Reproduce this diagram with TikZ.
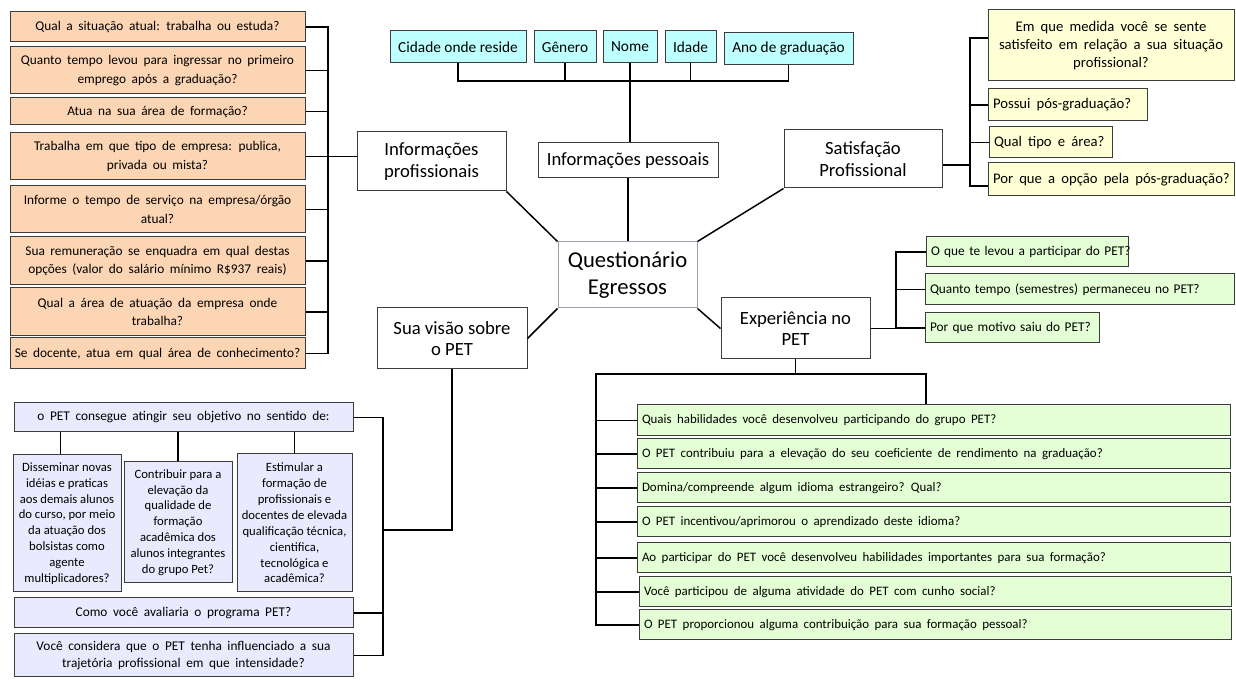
\documentclass[tikz,border=0pt]{standalone}
\usepackage{fontspec}
\setmainfont{Carlito}
\definecolor{orfill}{RGB}{252,213,181}
\definecolor{cyfill}{RGB}{190,255,255}
\definecolor{yefill}{RGB}{255,255,213}
\definecolor{grfill}{RGB}{228,255,214}
\definecolor{lvfill}{RGB}{234,234,255}
\definecolor{bord}{RGB}{60,60,60}
\definecolor{qbord}{RGB}{165,155,175}
\newcommand\widesp{\spaceskip=0.42em plus 0.05em\relax}
\newcommand\midsp{\spaceskip=0.33em plus 0.05em\relax}
\tikzset{
  conn/.style={line width=1.1pt, black},
  bbase/.style={draw=bord, line width=0.75pt, inner ysep=0pt},
  wsp/.style={execute at begin node=\widesp},
  msp/.style={execute at begin node=\midsp},
  orbox/.style={fill=orfill, font=\fontsize{10}{14}\selectfont, wsp},
  cybox/.style={fill=cyfill, font=\fontsize{11.5}{14}\selectfont},
  catbox/.style={fill=white, font=\fontsize{14}{16}\selectfont},
  qbox/.style={fill=white, draw=qbord, font=\fontsize{17}{20}\selectfont},
  yebox/.style={fill=yefill, font=\fontsize{11}{13.5}\selectfont, wsp},
  gtbox/.style={fill=grfill, font=\fontsize{10}{12}\selectfont, msp},
  gbbox/.style={fill=grfill, font=\fontsize{9.7}{12}\selectfont, wsp},
  lvbox/.style={fill=lvfill, font=\fontsize{10}{12}\selectfont, wsp},
  lvsub/.style={fill=lvfill, font=\fontsize{9.5}{11.9}\selectfont},
  lvboxb/.style={fill=lvfill, font=\fontsize{10}{12.4}\selectfont, wsp}
}
\newcommand\cbx[7]{%
  \pgfmathsetmacro\bxw{(#5-#3)*0.75}%
  \pgfmathsetmacro\bxh{(#6-#4)*0.75}%
  \node[bbase,#2,align=center,inner xsep=1pt,minimum width=\bxw pt,minimum height=\bxh pt] (#1) at ({(#3+#5)/2},{(#4+#6)/2}) {#7};}
\newcommand\lbx[7]{%
  \pgfmathsetmacro\bxw{(#5-#3-10)*0.75}%
  \pgfmathsetmacro\bxh{(#6-#4)*0.75}%
  \node[bbase,#2,align=left,inner xsep=3.75pt,text width=\bxw pt,minimum height=\bxh pt] (#1) at ({(#3+#5)/2},{(#4+#6)/2}) {\mbox{#7}};}
\begin{document}
\begin{tikzpicture}[x=0.75pt,y=-0.75pt]
\useasboundingbox[fill=white] (0,0) rectangle (1236,680);
% orange column
\cbx{o1}{orbox}{10}{12}{305}{42}{Qual a situação atual: trabalha ou estuda?}
\cbx{o2}{orbox}{10}{47}{305}{94}{Quanto tempo levou para ingressar no primeiro\\emprego após a graduação?}
\cbx{o3}{orbox}{10}{98}{305}{125}{Atua na sua área de formação?}
\cbx{o4}{orbox}{10}{133}{305}{180}{Trabalha em que tipo de empresa: publica,\\privada ou mista?}
\cbx{o5}{orbox}{10}{186}{305}{233}{Informe o tempo de serviço na empresa/órgão\\atual?}
\cbx{o6}{orbox}{10}{237}{305}{285}{Sua remuneração se enquadra em qual destas\\opções (valor do salário mínimo R\$937 reais)}
\cbx{o7}{orbox}{10}{288}{305}{336}{Qual a área de atuação da empresa onde\\trabalha?}
\cbx{o8}{orbox}{10}{338}{305}{369}{Se docente, atua em qual área de conhecimento?}
% categories
\cbx{ip}{catbox}{357}{132}{506}{191}{Informações\\profissionais}
\cbx{ipes}{catbox}{538}{143}{718}{178}{Informações pessoais}
\cbx{sp}{catbox}{784}{130}{942}{188}{Satisfação\\Profissional}
\cbx{q}{qbox}{558}{242}{697}{308}{Questionário\\Egressos}
\cbx{ex}{catbox}{721}{298}{870}{359}{Experiência no\\PET}
\cbx{sv}{catbox}{377}{308}{527}{369}{Sua visão sobre\\o PET}
% cyan
\cbx{cid}{cybox}{390}{31}{526}{63}{Cidade onde reside}
\cbx{gen}{cybox}{534}{31}{596}{63}{Gênero}
\cbx{nom}{cybox}{603}{31}{657}{63}{Nome}
\cbx{ida}{cybox}{665}{31}{716}{63}{Idade}
\cbx{ano}{cybox}{724}{33}{853}{65}{Ano de graduação}
% yellow
\cbx{y1}{yebox}{988}{10}{1234}{81}{Em que medida você se sente\\satisfeito em relação a sua situação\\profissional?}
\lbx{y2}{yebox}{988}{89}{1147}{121}{Possui pós-graduação?}
\lbx{y3}{yebox}{989}{127}{1112}{158}{Qual tipo e área?}
\lbx{y4}{yebox}{988}{163}{1234}{196}{Por que a opção pela pós-graduação?}
% green top
\lbx{g1}{gtbox}{926}{237}{1128}{267}{O que te levou a participar do PET?}
\lbx{g2}{gtbox}{925}{274}{1234}{305}{Quanto tempo (semestres) permaneceu no PET?}
\lbx{g3}{gtbox}{925}{313}{1099}{343}{Por que motivo saiu do PET?}
% green bottom
\lbx{b1}{gbbox}{637}{405}{1230}{436}{Quais habilidades você desenvolveu participando do grupo PET?}
\lbx{b2}{gbbox}{637}{439}{1230}{469}{O PET contribuiu para a elevação do seu coeficiente de rendimento na graduação?}
\lbx{b3}{gbbox}{637}{473}{1230}{503}{Domina/compreende algum idioma estrangeiro? Qual?}
\lbx{b4}{gbbox}{637}{507}{1230}{537}{O PET incentivou/aprimorou o aprendizado deste idioma?}
\lbx{b5}{gbbox}{637}{543}{1230}{573}{Ao participar do PET você desenvolveu habilidades importantes para sua formação?}
\lbx{b6}{gbbox}{639}{577}{1231}{607}{Você participou de alguma atividade do PET com cunho social?}
\lbx{b7}{gbbox}{639}{610}{1231}{640}{O PET proporcionou alguma contribuição para sua formação pessoal?}
% lavender
\cbx{l0}{lvbox}{14}{403}{353}{432}{o PET consegue atingir seu objetivo no sentido de:}
\cbx{la}{lvsub}{13}{455}{121}{592}{Disseminar novas\\idéias e praticas\\aos demais alunos\\do curso, por meio\\da atuação dos\\bolsistas como\\agente\\multiplicadores?}
\cbx{lb}{lvsub}{124}{462}{232}{583}{Contribuir para a\\elevação da\\qualidade de\\formação\\acadêmica dos\\alunos integrantes\\do grupo Pet?}
\cbx{lc}{lvsub}{237}{454}{352}{592}{Estimular a\\formação de\\profissionais e\\docentes de elevada\\qualificação técnica,\\cientifica,\\tecnológica e\\acadêmica?}
\cbx{l4}{lvbox}{14}{598}{353}{628}{Como você avaliaria o programa PET?}
\cbx{l5}{lvboxb}{14}{634}{353}{677}{Você considera que o PET tenha influenciado a sua\\trajetória profissional em que intensidade?}
% ---- connectors ----
\coordinate (lbx) at (328,0);
\draw[conn] (o1.east) -- (o1.east -| lbx) -- (o8.east -| lbx) -- (o8.east);
\foreach \n in {o2,o3,o5,o6,o7} \draw[conn] (\n.east) -- (\n.east -| lbx);
\draw[conn] (o4.east) -- (o4.east -| ip.west);
\coordinate (bus) at (0,81);
\draw[conn] (cid.south) -- (cid.south |- bus) -- (ano.south |- bus) -- (ano.south);
\foreach \n in {gen,ida} \draw[conn] (\n.south) -- (\n.south |- bus);
\draw[conn] (nom.south) -- (nom.south |- ipes.north);
\draw[conn] (ipes.south) -- (ipes.south |- q.north);
\draw[conn] (q.north west) -- (ip.south east);
\draw[conn] (q.north east) -- (sp.south west);
\draw[conn] (q.south west) -- (sv.east);
\draw[conn] (q.south east) -- (ex.west);
\coordinate (sbx) at (970,0);
\draw[conn] ([yshift=-4.5pt]sp.east) -- ([yshift=-4.5pt]sp.east -| sbx);
\draw[conn] ([yshift=5.6pt]y1.west) -- ([yshift=5.6pt]y1.west -| sbx) -- ([yshift=-4.9pt]y4.west -| sbx) -- ([yshift=-4.9pt]y4.west);
\foreach \n in {y2,y3} \draw[conn] (\n.west) -- (\n.west -| sbx);
\coordinate (ebx) at (896,0);
\draw[conn] (ex.east) -- (ex.east -| ebx);
\draw[conn] (g1.west) -- (g1.west -| ebx) -- (g3.west -| ebx) -- (g3.west);
\draw[conn] (g2.west) -- (g2.west -| ebx);
\coordinate (gbus) at (596,374);
\coordinate (gbr) at (926,374);
\draw[conn] (ex.south) -- (ex.south |- gbus);
\draw[conn] (b1.north -| gbr) -- (gbr) -- (gbus) -- (gbus |- b7.west) -- (b7.west);
\foreach \n in {b1,b2,b3,b4,b5,b6} \draw[conn] (\n.west) -- (\n.west -| gbus);
\coordinate (vbx) at (383,0);
\coordinate (vj) at (383,530);
\draw[conn] (sv.south) -- (sv.south |- vj) -- (vj);
\draw[conn] (l0.east) -- (l0.east -| vbx) -- (l5.east -| vbx) -- (l5.east);
\draw[conn] (l4.east) -- (l4.east -| vbx);
\draw[conn] ([xshift=-5pt]la.north |- l0.south) -- ([xshift=-5pt]la.north);
\draw[conn] (lb.north |- l0.south) -- (lb.north);
\draw[conn] (lc.north |- l0.south) -- (lc.north);
\end{tikzpicture}
\end{document}
